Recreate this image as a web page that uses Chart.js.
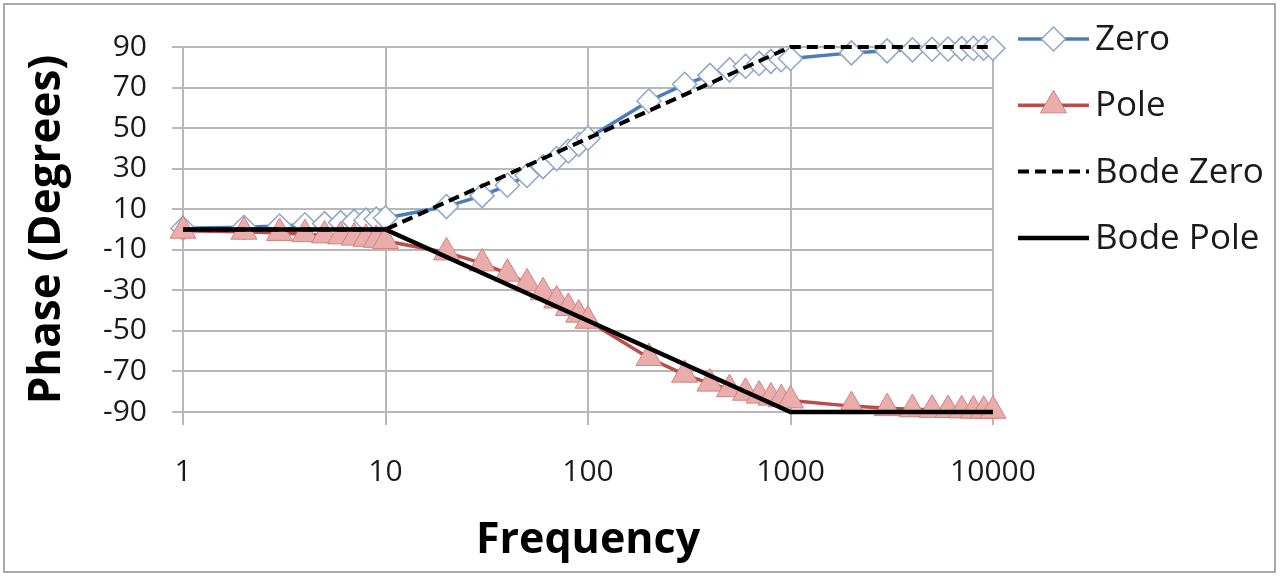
<!DOCTYPE html>
<html>
<head>
<meta charset="utf-8">
<script src="https://cdn.jsdelivr.net/npm/chart.js@4/dist/chart.umd.min.js"></script>
<style>
  html, body { margin: 0; padding: 0; background: #fff; }
  #wrap { position: relative; width: 1280px; height: 577px; }
</style>
</head>
<body>
<div id="wrap"><canvas id="chart"></canvas></div>
<script>
// Frequencies (Hz) where the response was sampled
const freqs = [1, 2, 3, 4, 5, 6, 7, 8, 9, 10,
               20, 30, 40, 50, 60, 70, 80, 90, 100,
               200, 300, 400, 500, 600, 700, 800, 900, 1000,
               2000, 3000, 4000, 5000, 6000, 7000, 8000, 9000, 10000];

// Phase (degrees)
const zeroPhase = [0.6, 1.1, 1.7, 2.3, 2.9, 3.4, 4.0, 4.6, 5.1, 5.7,
                   11.3, 16.7, 21.8, 26.6, 31.0, 35.0, 38.7, 42.0, 45.0,
                   63.4, 71.6, 76.0, 78.7, 80.5, 81.9, 82.9, 83.7, 84.3,
                   87.1, 88.1, 88.6, 88.9, 89.0, 89.2, 89.3, 89.4, 89.4];
const polePhase = [-0.6, -1.1, -1.7, -2.3, -2.9, -3.4, -4.0, -4.6, -5.1, -5.7,
                   -11.3, -16.7, -21.8, -26.6, -31.0, -35.0, -38.7, -42.0, -45.0,
                   -63.4, -71.6, -76.0, -78.7, -80.5, -81.9, -82.9, -83.7, -84.3,
                   -87.1, -88.1, -88.6, -88.9, -89.0, -89.2, -89.3, -89.4, -89.4];

// Bode straight-line approximations
const bodeFreqs = [1, 10, 1000, 10000];
const bodeZero = [0, 0, 90, 90];
const bodePole = [0, 0, -90, -90];

// Axis ticks
const xTicks = [1, 10, 100, 1000, 10000];
const yTicks = [-90, -70, -50, -30, -10, 10, 30, 50, 70, 90];

const FONT = "'Open Sans', sans-serif";
const GRID = '#b8b8b8';

function toPoints(xs, ys) {
    return xs.map((x, i) => ({ x: x, y: ys[i] }));
}

// Excel style legend: line sample with marker in the middle
const sideLegend = {
    id: 'sideLegend',
    afterDraw(chart) {
        const ctx = chart.ctx;
        const x0 = 1018, x1 = 1089, textX = 1095;
        ctx.save();
        chart.data.datasets.forEach((ds, i) => {
            const y = 39 + i * 66.3;
            ctx.strokeStyle = ds.borderColor;
            ctx.lineWidth = ds.borderWidth;
            ctx.setLineDash(ds.borderDash || []);
            ctx.beginPath();
            ctx.moveTo(x0, y);
            ctx.lineTo(x1, y);
            ctx.stroke();
            ctx.setLineDash([]);
            if (ds.pointRadius > 0) {
                ctx.fillStyle = ds.pointBackgroundColor;
                ctx.strokeStyle = ds.pointBorderColor;
                ctx.lineWidth = ds.pointBorderWidth;
                Chart.helpers.drawPoint(ctx, {
                    pointStyle: ds.pointStyle,
                    radius: ds.pointRadius,
                    rotation: 0,
                    borderWidth: ds.pointBorderWidth
                }, (x0 + x1) / 2, y);
            }
            ctx.fillStyle = '#1a1a1a';
            ctx.font = '35px ' + FONT;
            ctx.textAlign = 'left';
            ctx.textBaseline = 'middle';
            ctx.fillText(ds.label, textX, y + 1);
        });
        ctx.restore();
    }
};

// Thin frame around the whole chart
const frame = {
    id: 'frame',
    beforeDraw(chart) {
        const ctx = chart.ctx;
        ctx.save();
        ctx.fillStyle = '#fff';
        ctx.fillRect(0, 0, chart.width, chart.height);
        ctx.strokeStyle = '#a9a9a9';
        ctx.lineWidth = 2;
        ctx.strokeRect(4, 4, 1271, 568);
        ctx.restore();
    }
};

const ctx = document.getElementById('chart').getContext('2d');
new Chart(ctx, {
    type: 'line',
    data: {
        datasets: [{
            label: 'Zero',
            data: toPoints(freqs, zeroPhase),
            borderColor: '#4a7ebb',
            borderWidth: 3.5,
            pointStyle: 'rectRot',
            pointRadius: 12,
            pointBackgroundColor: '#ffffff',
            pointBorderColor: '#8ea6c8',
            pointBorderWidth: 1.5,
            order: 4,
            clip: false
        }, {
            label: 'Pole',
            data: toPoints(freqs, polePhase),
            borderColor: '#be4b48',
            borderWidth: 3.5,
            pointStyle: 'triangle',
            pointRadius: 15,
            pointBackgroundColor: '#e9adac',
            pointBorderColor: '#d3817f',
            pointBorderWidth: 1,
            order: 3,
            clip: false
        }, {
            label: 'Bode Zero',
            data: toPoints(bodeFreqs, bodeZero),
            borderColor: '#000000',
            borderWidth: 4,
            borderDash: [11, 6],
            pointRadius: 0,
            order: 2,
            clip: false
        }, {
            label: 'Bode Pole',
            data: toPoints(bodeFreqs, bodePole),
            borderColor: '#000000',
            borderWidth: 4.5,
            pointRadius: 0,
            order: 1,
            clip: false
        }]
    },
    options: {
        responsive: true,
        maintainAspectRatio: false,
        animation: false,
        layout: {
            padding: { left: 0, top: 47, right: 287, bottom: 0 }
        },
        plugins: {
            legend: { display: false },
            tooltip: { enabled: false }
        },
        scales: {
            x: {
                type: 'logarithmic',
                min: 1,
                max: 10000,
                afterBuildTicks: (scale) => {
                    scale.ticks = xTicks.map(v => ({ value: v, major: true }));
                },
                afterFit: (scale) => { scale.height = 165; },
                ticks: {
                    color: '#1a1a1a',
                    font: { family: FONT, size: 30 },
                    padding: 29,
                    maxRotation: 0,
                    autoSkip: false,
                    callback: (v) => String(v)
                },
                grid: { color: GRID, lineWidth: 2, tickLength: 13 },
                border: { color: GRID, width: 2 },
                title: {
                    display: true,
                    text: 'Frequency',
                    color: '#000',
                    font: { family: FONT, size: 43, weight: 'bold' },
                    padding: { top: 0, bottom: 10 }
                }
            },
            y: {
                min: -90,
                max: 90,
                afterBuildTicks: (scale) => {
                    scale.ticks = yTicks.map(v => ({ value: v }));
                },
                afterFit: (scale) => { scale.width = 183; },
                ticks: {
                    color: '#1a1a1a',
                    font: { family: FONT, size: 30 },
                    padding: 25,
                    callback: (v) => String(v)
                },
                grid: { color: GRID, lineWidth: 2, tickLength: 11 },
                border: { color: GRID, width: 2 },
                title: {
                    display: true,
                    text: 'Phase (Degrees)',
                    color: '#000',
                    font: { family: FONT, size: 44, weight: 'bold' },
                    padding: { top: 21, bottom: 0 }
                }
            }
        }
    },
    plugins: [frame, sideLegend]
});
</script>
</body>
</html>
